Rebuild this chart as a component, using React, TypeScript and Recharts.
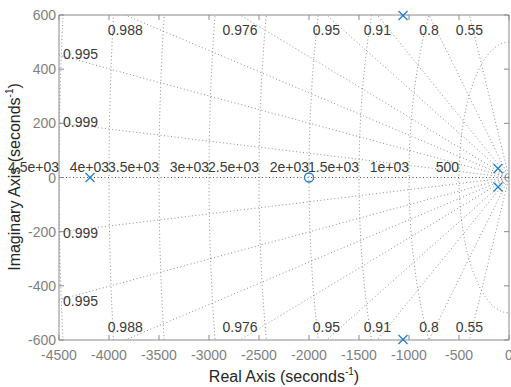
/**
 * Pole-zero map with damping / natural-frequency grid (sgrid style).
 */

import { ComposedChart, Line, Scatter, XAxis, YAxis } from 'recharts';

// Chart values
const poleRe = [-4190, -1060, -1060, -110, -110];
const poleIm = [0, 598, -598, 33, -35];
const zeroRe = [-2000];
const zeroIm = [0];

const dampingValues = [0.999, 0.995, 0.988, 0.976, 0.95, 0.91, 0.8, 0.55];
const dampingLabels = ['0.999', '0.995', '0.988', '0.976', '0.95', '0.91', '0.8', '0.55'];
const naturalFreqs = [500, 1000, 1500, 2000, 2500, 3000, 3500, 4000, 4500];
const freqLabels = ['500', '1e+03', '1.5e+03', '2e+03', '2.5e+03', '3e+03', '3.5e+03', '4e+03', '4.5e+03'];

const xTicks = [-4500, -4000, -3500, -3000, -2500, -2000, -1500, -1000, -500, 0];
const yTicks = [-600, -400, -200, 0, 200, 400, 600];

const X_MIN = -4500;
const X_MAX = 0;
const Y_MIN = -600;
const Y_MAX = 600;

const MARKER = '#1f7fd0';
const GRID = '#8c8c8c';
const TICK_TEXT = '#7f7f7f';
const AXIS = '#8a8a8a';
const LABEL_TEXT = '#3a3a3a';
const FONT = '"Liberation Sans", Arial, sans-serif';

// plot box size in px (chart 511x387 minus margins and axes)
const PLOT_W = 450;
const PLOT_H = 325;

const poles = poleRe.map((re, i) => ({ x: re, y: poleIm[i] }));
const zeros = zeroRe.map((re, i) => ({ x: re, y: zeroIm[i] }));

// grid geometry
const rayLen = 20000;
const dampingLines = dampingValues.map((z) => [
  { x: 0, y: 0 },
  { x: -rayLen * z, y: rayLen * Math.sqrt(1 - z * z) },
]);
const dampingLinesNeg = dampingValues.map((z) => [
  { x: 0, y: 0 },
  { x: -rayLen * z, y: -rayLen * Math.sqrt(1 - z * z) },
]);
const circles = naturalFreqs.map((wn) => {
  const pts = [];
  for (let a = 90; a <= 270; a += 1.5) {
    const t = (a * Math.PI) / 180;
    pts.push({ x: wn * Math.cos(t), y: wn * Math.sin(t) });
  }
  return pts;
});
const realAxisLine = [
  { x: X_MIN, y: 0 },
  { x: 0, y: 0 },
];

// label anchors for the damping lines: top/bottom edge, or left edge
const dampingTextPts = dampingValues.flatMap((z, i) => {
  const slope = Math.sqrt(1 - z * z) / z;
  const xTop = -Y_MAX / slope;
  if (xTop > X_MIN) {
    return [
      { x: xTop, y: 545, text: dampingLabels[i], anchor: 'middle' },
      { x: xTop, y: -553, text: dampingLabels[i], anchor: 'middle' },
    ];
  }
  const yLeft = -X_MIN * slope;
  return [
    { x: X_MIN + 40, y: yLeft + 5, text: dampingLabels[i], anchor: 'start' },
    { x: X_MIN + 40, y: -yLeft - 5, text: dampingLabels[i], anchor: 'start' },
  ];
});
const freqTextPts = naturalFreqs.map((wn, i) => ({ x: -wn, y: 38, text: freqLabels[i], anchor: 'end' }));

function GridText(props: any) {
  const { cx, cy, payload } = props;
  return (
    <text
      x={cx}
      y={cy + 5}
      textAnchor={payload.anchor}
      fontSize={14}
      fontFamily={FONT}
      fill={LABEL_TEXT}
    >
      {payload.text}
    </text>
  );
}

function Cross(props: any) {
  const { cx, cy } = props;
  const s = 4.5;
  return (
    <g stroke={MARKER} strokeWidth={1.3}>
      <line x1={cx - s} y1={cy - s} x2={cx + s} y2={cy + s} />
      <line x1={cx - s} y1={cy + s} x2={cx + s} y2={cy - s} />
    </g>
  );
}

function Ring(props: any) {
  const { cx, cy } = props;
  return <circle cx={cx} cy={cy} r={4.5} fill="none" stroke={MARKER} strokeWidth={1.3} />;
}

// bottom tick + matching inward tick on the top edge of the box
function BottomTick(props: any) {
  const { x, y, payload } = props;
  return (
    <g>
      <line x1={x} y1={y} x2={x} y2={y - 5} stroke={AXIS} />
      <line x1={x} y1={y - PLOT_H} x2={x} y2={y - PLOT_H + 5} stroke={AXIS} />
      <text x={x} y={y + 20} textAnchor="middle" fontSize={14} fontFamily={FONT} fill={TICK_TEXT}>
        {payload.value}
      </text>
    </g>
  );
}

// left tick + matching inward tick on the right edge of the box
function LeftTick(props: any) {
  const { x, y, payload } = props;
  return (
    <g>
      <line x1={x} y1={y} x2={x + 5} y2={y} stroke={AXIS} />
      <line x1={x + PLOT_W} y1={y} x2={x + PLOT_W - 5} y2={y} stroke={AXIS} />
      <text x={x - 3} y={y + 5} textAnchor="end" fontSize={14} fontFamily={FONT} fill={TICK_TEXT}>
        {payload.value}
      </text>
    </g>
  );
}

const gridLineProps = {
  stroke: GRID,
  strokeWidth: 1,
  strokeDasharray: '1 2.5',
  dot: false,
  activeDot: false,
  isAnimationActive: false,
  type: 'linear' as const,
  dataKey: 'y',
};

export default function App() {
  return (
    <div style={{ position: 'absolute', left: 0, top: 0, width: 511, height: 387, background: '#fff' }}>
      <ComposedChart width={511} height={387} margin={{ top: 14, right: 1, bottom: 17, left: 0 }}>
        <XAxis
          xAxisId="b"
          type="number"
          dataKey="x"
          domain={[X_MIN, X_MAX]}
          ticks={xTicks}
          allowDataOverflow
          height={30}
          tickSize={0}
          tickMargin={0}
          tickLine={false}
          axisLine={{ stroke: AXIS }}
          tick={<BottomTick />}
          interval={0}
        />
        <XAxis
          xAxisId="t"
          orientation="top"
          type="number"
          dataKey="x"
          domain={[X_MIN, X_MAX]}
          allowDataOverflow
          height={1}
          tick={false}
          tickLine={false}
          axisLine={{ stroke: AXIS }}
        />
        {/* unclipped twin of the bottom axis for markers and grid labels */}
        <XAxis xAxisId="m" type="number" dataKey="x" domain={[X_MIN, X_MAX]} hide height={0} />
        <YAxis
          yAxisId="l"
          type="number"
          dataKey="y"
          domain={[Y_MIN, Y_MAX]}
          ticks={yTicks}
          allowDataOverflow
          width={59}
          tickSize={0}
          tickMargin={0}
          tickLine={false}
          axisLine={{ stroke: AXIS }}
          tick={<LeftTick />}
          interval={0}
        />
        <YAxis
          yAxisId="r"
          orientation="right"
          type="number"
          dataKey="y"
          domain={[Y_MIN, Y_MAX]}
          allowDataOverflow
          width={1}
          tick={false}
          tickLine={false}
          axisLine={{ stroke: AXIS }}
        />
        <YAxis yAxisId="m" type="number" dataKey="y" domain={[Y_MIN, Y_MAX]} hide width={0} />

        {dampingLines.map((pts, i) => (
          <Line key={`dp${i}`} xAxisId="b" yAxisId="l" data={pts} {...gridLineProps} />
        ))}
        {dampingLinesNeg.map((pts, i) => (
          <Line key={`dn${i}`} xAxisId="b" yAxisId="l" data={pts} {...gridLineProps} />
        ))}
        {circles.map((pts, i) => (
          <Line key={`c${i}`} xAxisId="b" yAxisId="l" data={pts} {...gridLineProps} />
        ))}
        <Line xAxisId="b" yAxisId="l" data={realAxisLine} {...gridLineProps} stroke="#555" />

        <Scatter xAxisId="m" yAxisId="m" data={dampingTextPts} shape={<GridText />} isAnimationActive={false} />
        <Scatter xAxisId="m" yAxisId="m" data={freqTextPts} shape={<GridText />} isAnimationActive={false} />

        <Scatter xAxisId="m" yAxisId="m" data={poles} shape={<Cross />} isAnimationActive={false} />
        <Scatter xAxisId="m" yAxisId="m" data={zeros} shape={<Ring />} isAnimationActive={false} />

        <text x={20} y={177} transform="rotate(-90 20 177)" textAnchor="middle" fontSize={16} fontFamily={FONT} fill="#262626">
          Imaginary Axis (seconds
          <tspan fontSize={10} dy={-7}>-1</tspan>
          <tspan dy={7}>)</tspan>
        </text>
        <text x={284} y={382} textAnchor="middle" fontSize={16} fontFamily={FONT} fill="#262626">
          Real Axis (seconds
          <tspan fontSize={10} dy={-7}>-1</tspan>
          <tspan dy={7}>)</tspan>
        </text>
      </ComposedChart>
    </div>
  );
}
